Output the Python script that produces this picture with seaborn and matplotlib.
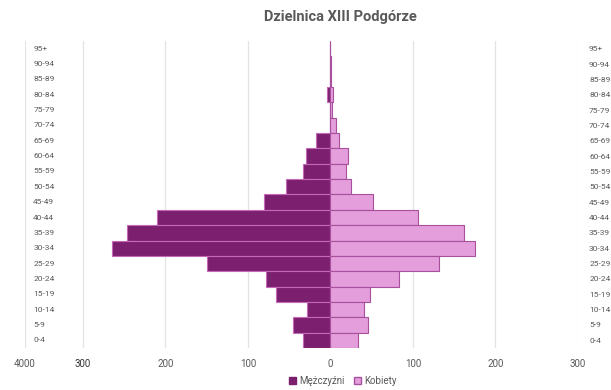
import seaborn as sns
import pandas as pd
import numpy as np
import matplotlib.pyplot as plt
from matplotlib.patches import Patch

# age groups, top of the pyramid first
ages = ["95+", "90-94", "85-89", "80-84", "75-79", "70-74", "65-69", "60-64",
        "55-59", "50-54", "45-49", "40-44", "35-39", "30-34", "25-29",
        "20-24", "15-19", "10-14", "5-9", "0-4"]
men = [0, 1, 1, 4, 1, 1, 17, 29, 33, 54, 81, 210, 247, 265, 149, 78, 66, 28, 45, 33]
women = [0, 1, 1, 3, 2, 7, 10, 21, 19, 25, 52, 106, 162, 175, 131, 83, 48, 41, 45, 33]
xticks = [-370, -300, -200, -100, 0, 100, 200, 300]
xtick_labels = ["4000", "300", "200", "100", "0", "100", "200", "300"]

men_col = "#7b1f6e"
women_col = "#e39edb"
grey = "#595959"

df = pd.DataFrame({"age": ages, "men": [-v for v in men], "women": women})

sns.set_style("white")
plt.rcParams["font.family"] = ["Roboto", "DejaVu Sans"]

fig = plt.figure(figsize=(6.11, 3.9), dpi=100)
ax = fig.add_axes([25 / 611, 42 / 390, 553 / 611, 307 / 390])

sns.barplot(data=df, x="men", y="age", order=ages, color=men_col, width=1.0,
            edgecolor="#c469b8", linewidth=0.8, saturation=1, ax=ax)
sns.barplot(data=df, x="women", y="age", order=ages, color=women_col, width=1.0,
            edgecolor="#a8509d", linewidth=0.8, saturation=1, ax=ax)

ax.set_xlim(-370, 300)
ax.set_ylim(19.5, -0.5)
ax.set_xticks(xticks)
ax.set_xticklabels(xtick_labels, fontsize=7, color=grey)
ax.get_xticklabels()[1].set_color("#333333")
ax.tick_params(axis="x", length=0, pad=8)
for x in xticks:
    ax.axvline(x, color="#e3e3e3", lw=0.9, zorder=0)

# age labels on the right side
ax.yaxis.tick_right()
ax.set_yticks(range(len(ages)))
ax.set_yticklabels(ages, fontsize=6, color=grey)
ax.tick_params(axis="y", length=0, pad=8)
# and again inside, at the left edge
for i, a in enumerate(ages):
    ax.text(-360, i, a, fontsize=6, color=grey, ha="left", va="center")

ax.set_xlabel("")
ax.set_ylabel("")
for s in ax.spines.values():
    s.set_visible(False)

fig.text(340 / 611, 1 - 17 / 390, "Dzielnica XIII Podgórze", ha="center", va="center",
         fontsize=10.5, fontweight="bold", color=grey)

handles = [Patch(facecolor=men_col, edgecolor=men_col, label="Mężczyźni"),
           Patch(facecolor=women_col, edgecolor="#a8509d", label="Kobiety")]
fig.legend(handles=handles, loc="center", bbox_to_anchor=(343 / 611, 1 - 381 / 390),
           ncol=2, frameon=False, fontsize=7, labelcolor=grey, handlelength=0.7,
           handleheight=0.7, handletextpad=0.3, columnspacing=1.0)

fig.savefig("out.png", dpi=100)
